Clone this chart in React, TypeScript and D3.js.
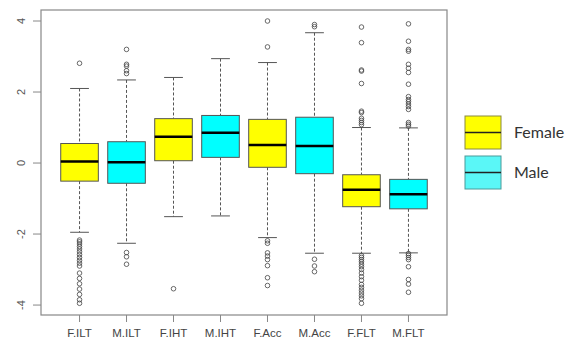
import React, { useEffect, useRef } from 'react';
import * as d3 from 'd3';

// values
const categories = ['F.ILT', 'M.ILT', 'F.IHT', 'M.IHT', 'F.Acc', 'M.Acc', 'F.FLT', 'M.FLT'];
const lowerWhisker = [-1.95, -2.26, -1.51, -1.49, -2.10, -2.54, -2.54, -2.53];
const q1 = [-0.51, -0.57, 0.065, 0.16, -0.12, -0.30, -1.23, -1.29];
const medians = [0.04, 0.02, 0.74, 0.85, 0.51, 0.48, -0.75, -0.88];
const q3 = [0.55, 0.60, 1.25, 1.34, 1.23, 1.29, -0.33, -0.46];
const upperWhisker = [2.10, 2.34, 2.41, 2.94, 2.83, 3.67, 1.00, 0.99];
const outliers = [
    [2.81, -2.17, -2.22, -2.28, -2.35, -2.42, -2.5, -2.58, -2.66, -2.74, -2.82, -2.9, -3.1, -3.25, -3.4, -3.55, -3.7, -3.85, -3.95],
    [3.2, 2.78, 2.73, 2.6, 2.52, -2.52, -2.64, -2.85],
    [-3.54],
    [],
    [4.0, 3.27, -2.19, -2.26, -2.53, -2.62, -2.72, -2.89, -3.23, -3.45],
    [3.9, 3.84, -2.71, -2.9, -3.06],
    [3.83, 3.39, 2.62, 2.59, 2.24, 1.46, 1.42, 1.26, 1.2, 1.14, 1.08, -2.61, -2.66, -2.72, -2.78, -2.85, -2.92, -3.0, -3.1, -3.2, -3.3, -3.42, -3.5, -3.58, -3.66, -3.74, -3.82, -3.95],
    [3.92, 3.43, 3.2, 3.15, 2.78, 2.67, 2.55, 2.22, 1.87, 1.79, 1.73, 1.66, 1.59, 1.51, 1.14, 1.09, 1.04, -2.55, -2.6, -2.66, -2.72, -2.92, -3.28, -3.41, -3.64],
];
const yTicks = [-4, -2, 0, 2, 4];
const legendItems = [
    { label: 'Female', color: '#ffff00', stroke: '#8a8a40' },
    { label: 'Male', color: '#5af7f7', stroke: '#4a9a9a' },
];

export default function App() {
    const ref = useRef<SVGSVGElement>(null);

    useEffect(() => {
        if (!ref.current) return;
        const svg = d3.select(ref.current);
        svg.selectAll('*').remove();

        const frame = { left: 41, right: 447, top: 10, bottom: 315 };

        const x = d3.scalePoint<string>()
            .domain(categories)
            .range([frame.left, frame.right])
            .padding(0.82);
        const y = d3.scaleLinear().domain([-4.28, 4.31]).range([frame.bottom, frame.top]);

        const boxW = x.step() * 0.8;
        const grey = '#555';

        const rows = categories.map((c, i) => ({
            name: c,
            lo: lowerWhisker[i], q1: q1[i], med: medians[i], q3: q3[i], hi: upperWhisker[i],
            out: outliers[i],
            fill: c.startsWith('F') ? '#ffff00' : '#00ffff',
        }));

        const g = svg.selectAll('.box').data(rows).enter().append('g')
            .attr('transform', d => `translate(${x(d.name)},0)`);

        // whiskers
        g.append('line').attr('y1', d => y(d.hi)).attr('y2', d => y(d.q3))
            .attr('stroke', grey).attr('stroke-dasharray', '3,2');
        g.append('line').attr('y1', d => y(d.q1)).attr('y2', d => y(d.lo))
            .attr('stroke', grey).attr('stroke-dasharray', '3,2');
        g.append('line').attr('x1', -boxW / 4).attr('x2', boxW / 4)
            .attr('y1', d => y(d.hi)).attr('y2', d => y(d.hi)).attr('stroke', grey);
        g.append('line').attr('x1', -boxW / 4).attr('x2', boxW / 4)
            .attr('y1', d => y(d.lo)).attr('y2', d => y(d.lo)).attr('stroke', grey);

        // box + median
        g.append('rect')
            .attr('x', -boxW / 2).attr('width', boxW)
            .attr('y', d => y(d.q3)).attr('height', d => y(d.q1) - y(d.q3))
            .attr('fill', d => d.fill).attr('stroke', grey).attr('stroke-width', 1);
        g.append('line').attr('x1', -boxW / 2).attr('x2', boxW / 2)
            .attr('y1', d => y(d.med)).attr('y2', d => y(d.med))
            .attr('stroke', '#000').attr('stroke-width', 2.5);

        // outliers
        g.selectAll('circle').data(d => d.out).enter().append('circle')
            .attr('cy', v => y(v)).attr('r', 2.3)
            .attr('fill', 'none').attr('stroke', '#444').attr('stroke-width', 0.8);

        // frame
        svg.append('rect')
            .attr('x', frame.left).attr('y', frame.top)
            .attr('width', frame.right - frame.left).attr('height', frame.bottom - frame.top)
            .attr('fill', 'none').attr('stroke', '#888').attr('stroke-width', 1.2);

        // y axis
        const yAx = svg.append('g');
        yAx.selectAll('line').data(yTicks).enter().append('line')
            .attr('x1', frame.left - 8).attr('x2', frame.left)
            .attr('y1', d => y(d)).attr('y2', d => y(d)).attr('stroke', '#888');
        yAx.selectAll('text').data(yTicks).enter().append('text')
            .attr('transform', d => `translate(25,${y(d)}) rotate(-90)`)
            .attr('text-anchor', 'middle')
            .attr('font-family', 'Liberation Sans, Arial, sans-serif')
            .attr('font-size', 11).attr('fill', '#555')
            .text(d => d);

        // x axis
        const xAx = svg.append('g');
        xAx.selectAll('line').data(categories).enter().append('line')
            .attr('x1', d => x(d)!).attr('x2', d => x(d)!)
            .attr('y1', frame.bottom).attr('y2', frame.bottom + 7).attr('stroke', '#888');
        xAx.selectAll('text').data(categories).enter().append('text')
            .attr('x', d => x(d)!).attr('y', 337)
            .attr('text-anchor', 'middle')
            .attr('font-family', 'Liberation Sans, Arial, sans-serif')
            .attr('font-size', 11.5).attr('fill', '#444')
            .text(d => d);

        // legend
        const lg = svg.selectAll('.legend').data(legendItems).enter().append('g')
            .attr('transform', (d, i) => `translate(465,${116 + i * 40})`);
        lg.append('rect').attr('width', 36).attr('height', 33)
            .attr('fill', d => d.color).attr('stroke', d => d.stroke);
        lg.append('line').attr('x1', 0).attr('x2', 36).attr('y1', 16.5).attr('y2', 16.5)
            .attr('stroke', '#222').attr('stroke-width', 1.5);
        lg.append('text').attr('x', 49).attr('y', 22)
            .attr('font-family', 'Lato, Open Sans, sans-serif')
            .attr('font-size', 16).attr('fill', '#333')
            .text(d => d.label);
    }, []);

    return (
        <svg ref={ref} width={567} height={340}
            style={{ position: 'absolute', left: 0, top: 0, background: '#fff' }} />
    );
}
